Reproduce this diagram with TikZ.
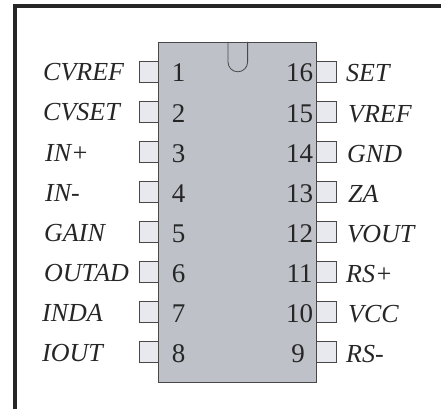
\documentclass[tikz,border=0pt]{standalone}
\usepackage{fontspec}
\setmainfont{Liberation Serif}
\definecolor{chipgray}{RGB}{190,193,200}
\definecolor{padgray}{RGB}{232,233,238}
\definecolor{edgegray}{RGB}{72,72,72}
\tikzset{
    pad/.style={draw=edgegray,fill=padgray,line width=0.8pt,minimum width=19.5pt,minimum height=20.5pt,inner sep=0pt},
    pinnum/.style={font=\fontsize{27}{30}\selectfont,text=black!85,inner sep=0pt},
    pinname/.style={font=\fontsize{26}{30}\selectfont\itshape,text=black!85,inner sep=0pt}
}
\begin{document}
\begin{tikzpicture}[x=1pt,y=-1pt]
    \useasboundingbox (0,0) rectangle (441,409);
    % frame
    \draw[line width=3.4pt,color=black!85] (15,409) -- (15,6) -- (441,6);
    % left pads
    \foreach \y/\n/\t/\xt in {72/1/CVREF/43,112/2/CVSET/43,152/3/IN+/45,192/4/IN-/45,232/5/GAIN/44,272/6/OUTAD/44,312/7/INDA/42,352/8/IOUT/42}
    {
        \node[pad] (pad\n) at (149,\y) {};
        \node[pinname,anchor=base west] (name\n) at (\xt,\y+9) {\t};
    }
    % right pads
    \foreach \y/\n/\t/\xt in {72/16/SET/346,112/15/VREF/348,152/14/GND/347,192/13/ZA/348,232/12/VOUT/347,272/11/RS+/346,312/10/VCC/348,352/9/RS-/346}
    {
        \node[pad] (pad\n) at (326.5,\y) {};
        \node[pinname,anchor=base west] (name\n) at (\xt,\y+10) {\t};
    }
    % chip body
    \node[draw=edgegray,fill=chipgray,line width=0.8pt,minimum width=158pt,minimum height=340pt,inner sep=0pt] (chip) at (237.8,212) {};
    \draw[edgegray,line width=0.8pt] (228,42) -- (228,62) arc[start angle=180,end angle=0,radius=9.8] -- (247.6,42);
    % pin numbers
    \foreach \y/\n in {72/1,112/2,152/3,192/4,232/5,272/6,312/7,352/8}
        \node[pinnum,anchor=base] (num\n) at (178.5,\y+10) {\n};
    \foreach \y/\n in {72/16,112/15,152/14,192/13,232/12,272/11,312/10}
        \node[pinnum,anchor=base] (num\n) at (299.5,\y+10) {\n};
    \node[pinnum,anchor=base] (num9) at (298,362) {9};
\end{tikzpicture}
\end{document}
